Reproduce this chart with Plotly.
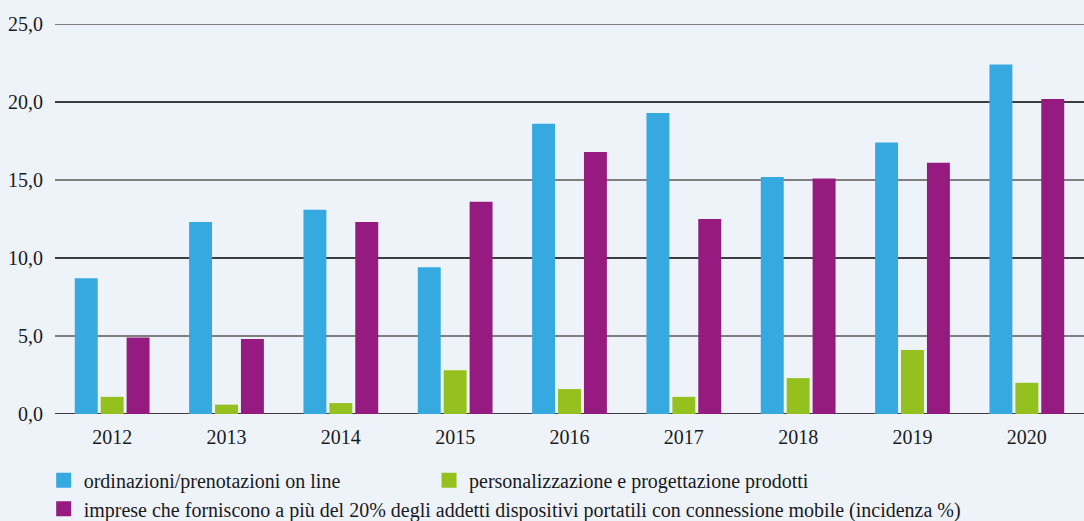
import plotly.graph_objects as go

years = ["2012", "2013", "2014", "2015", "2016", "2017", "2018", "2019", "2020"]
ordinazioni = [8.7, 12.3, 13.1, 9.4, 18.6, 19.3, 15.2, 17.4, 22.4]
personalizzazione = [1.1, 0.6, 0.7, 2.8, 1.6, 1.1, 2.3, 4.1, 2.0]
imprese = [4.9, 4.8, 12.3, 13.6, 16.8, 12.5, 15.1, 16.1, 20.2]

series_names = [
    "ordinazioni/prenotazioni on line",
    "personalizzazione e progettazione prodotti",
    "imprese che forniscono a più del 20% degli addetti dispositivi portatili con connessione mobile (incidenza %)",
]
series_values = [ordinazioni, personalizzazione, imprese]
colors = ["#36a9e0", "#95c11f", "#951b80"]
legend_ids = ["legend", "legend3", "legend2"]

tick_values = [0, 5, 10, 15, 20, 25]
tick_labels = ["0,0", "5,0", "10,0", "15,0", "20,0", "25,0"]
grid_colors = ["#000000", "#7f7f7f", "#000000", "#7f7f7f", "#000000", "#7f7f7f"]
grid_widths = [1.5, 2.2, 1.5, 2.2, 1.5, 2.2]

FONT = "Liberation Serif, Times New Roman, serif"
BG = "#eef3fa"
TXT = "#1a1a1a"
FS = 20

fig = go.Figure()
for name, vals, col in zip(series_names, series_values, colors):
    fig.add_trace(go.Bar(x=years, y=vals, name=name, marker_color=col,
                         marker_line_width=0, showlegend=False))
# legend entries with larger square markers
for name, col, lg in zip(series_names, colors, legend_ids):
    fig.add_trace(go.Scatter(x=[None], y=[None], mode="markers", name=name,
                             marker=dict(symbol="square", size=15, color=col),
                             legend=lg, showlegend=True))

shapes = []
for v, c, w in zip(tick_values, grid_colors, grid_widths):
    shapes.append(dict(type="line", xref="paper", x0=0, x1=1, yref="y", y0=v, y1=v,
                       line=dict(color=c, width=w), layer="below"))

legend_style = dict(orientation="h", xanchor="left", yanchor="middle",
                    bgcolor="rgba(0,0,0,0)", itemsizing="trace",
                    font=dict(family=FONT, size=FS, color=TXT))

fig.update_layout(
    width=1084, height=521,
    paper_bgcolor=BG, plot_bgcolor=BG,
    margin=dict(l=55, r=0, t=24, b=107, autoexpand=False),
    barmode="group", bargap=0.32, bargroupgap=0.115,
    font=dict(family=FONT, size=FS, color=TXT),
    shapes=shapes,
    xaxis=dict(showgrid=False, showline=False, zeroline=False, ticks="",
               ticklabelstandoff=9,
               tickfont=dict(family=FONT, size=FS, color=TXT)),
    yaxis=dict(range=[0, 25], tickvals=tick_values, ticktext=tick_labels,
               showgrid=False, zeroline=False, showline=False, ticks="",
               ticklabelstandoff=11,
               tickfont=dict(family=FONT, size=FS, color=TXT)),
    legend=dict(legend_style, x=-0.011, y=-0.17),
    legend3=dict(legend_style, x=0.3635, y=-0.17),
    legend2=dict(legend_style, x=-0.011, y=-0.243),
)

fig.write_html("out.html", config={"displayModeBar": False},
               post_script="document.body.style.margin='0';")
